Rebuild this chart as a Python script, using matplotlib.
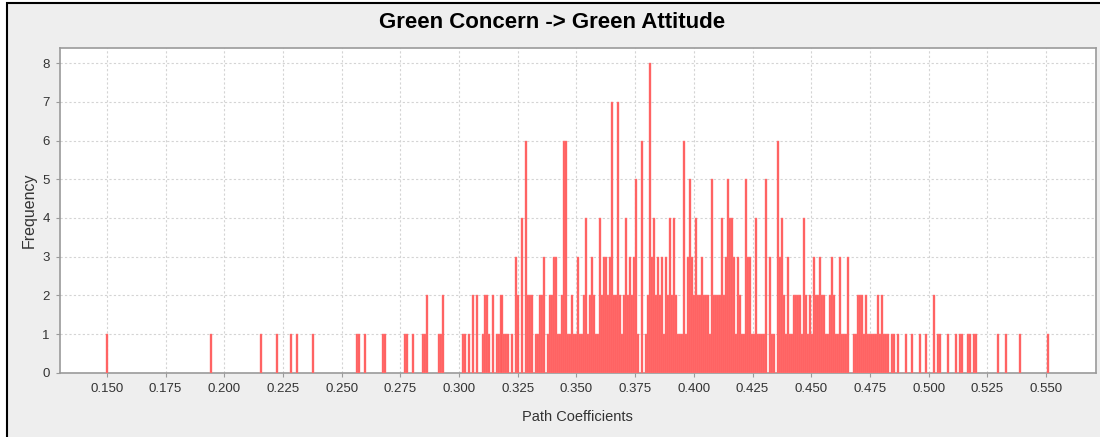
import matplotlib

matplotlib.use("Agg")

import matplotlib.pyplot as plt
import numpy as np
from matplotlib.patches import Rectangle


# histogram bins: lowest / highest path coefficient and number of bins
BIN_MIN = 0.150
BIN_MAX = 0.551
N_BINS = 471

# isolated bins on the left and right tails (bin index -> frequency)
tail_bins = [0, 52, 77, 85, 92, 95, 103, 125, 126, 129, 138, 139, 149, 150,
             153, 158, 159, 160, 166, 167, 168,
             420, 424, 426, 427, 430, 431, 433, 434, 445, 449, 456, 470]
tail_freq = [1, 1, 1, 1, 1, 1, 1, 1, 1, 1, 1, 1, 1, 1,
             1, 1, 1, 2, 1, 1, 2,
             1, 1, 1, 1, 1, 1, 1, 1, 1, 1, 1, 1]

# consecutive bins of the dense middle part, starting at bin 178
DENSE_START = 178
dense_freq = [
    1, 1, 0, 1, 0, 2, 0, 2, 0, 0,   # 178
    1, 2, 2, 1, 0, 2, 0, 1, 1, 2,   # 188
    1, 1, 1, 0, 1, 0, 3, 2, 0, 4,   # 198
    0, 6, 2, 2, 2, 0, 1, 1, 2, 2,   # 208
    3, 0, 1, 2, 2, 3, 3, 1, 1, 2,   # 218
    6, 6, 1, 1, 2, 1, 1, 3, 1, 1,   # 228
    2, 4, 1, 2, 3, 2, 1, 1, 4, 2,   # 238
    3, 3, 2, 3, 7, 2, 2, 7, 2, 1,   # 248
    2, 4, 2, 3, 2, 3, 5, 1, 0, 6,   # 258
    0, 1, 2, 8, 3, 4, 2, 3, 2, 3,   # 268
    1, 3, 2, 4, 2, 4, 2, 1, 1, 1,   # 278
    6, 1, 3, 5, 3, 2, 4, 2, 2, 3,   # 288
    2, 2, 2, 1, 5, 2, 2, 2, 2, 4,   # 298
    2, 3, 5, 4, 4, 3, 1, 3, 2, 1,   # 308
    1, 5, 3, 3, 1, 1, 4, 1, 1, 1,   # 318
    1, 5, 0, 3, 1, 1, 0, 6, 3, 4,   # 328
    2, 1, 3, 1, 1, 2, 2, 2, 2, 1,   # 338
    4, 2, 1, 2, 1, 3, 2, 2, 3, 2,   # 348
    2, 1, 1, 2, 3, 2, 1, 1, 3, 1,   # 358
    1, 1, 3, 0, 0, 1, 1, 2, 2, 2,   # 368
    1, 2, 1, 1, 1, 1, 1, 2, 1, 2,   # 378
    1, 1, 1, 0, 1, 1, 0, 1, 0, 0,   # 388
    0, 1, 0, 0, 1, 0, 0, 0, 1, 0,   # 398
    0, 1, 0, 0, 0, 2, 0, 1, 1,      # 408
]

x_ticks = [0.150, 0.175, 0.200, 0.225, 0.250, 0.275, 0.300, 0.325, 0.350,
           0.375, 0.400, 0.425, 0.450, 0.475, 0.500, 0.525, 0.550]
y_ticks = [0, 1, 2, 3, 4, 5, 6, 7, 8]


def main():
    bin_width = (BIN_MAX - BIN_MIN) / (N_BINS - 1)

    bins = tail_bins + list(range(DENSE_START, DENSE_START + len(dense_freq)))
    freq = tail_freq + dense_freq
    coef = BIN_MIN + np.array(bins) * bin_width

    plt.rcParams["font.family"] = ["Liberation Sans", "DejaVu Sans"]

    fig = plt.figure(figsize=(11, 4.37), dpi=100, facecolor="white")
    fig.patches.append(
        Rectangle(
            (7 / 1100, -0.1), 1.2, 1.1 - 3 / 437,
            transform=fig.transFigure,
            facecolor="#eeeeee",
            edgecolor="black",
            linewidth=1.5,
            zorder=-10,
        )
    )

    ax = fig.add_axes([0.0541, 0.1465, 0.9420, 0.7430])
    ax.set_facecolor("white")

    ax.bar(
        coef,
        freq,
        width=bin_width,
        color="#ff5c5c",
        edgecolor="#ff7e7e",
        linewidth=0.3,
        zorder=3,
    )

    ax.set_xlim(0.1298, 0.5712)
    ax.set_ylim(0, 8.38)
    ax.set_xticks(x_ticks)
    ax.set_xticklabels([f"{t:.3f}" for t in x_ticks])
    ax.set_yticks(y_ticks)

    ax.grid(True, color="#d4d4d4", linestyle=(0, (2, 2)), linewidth=0.8, zorder=0)
    for spine in ax.spines.values():
        spine.set_color("#9a9a9a")
        spine.set_linewidth(1.2)

    ax.tick_params(
        direction="out", length=3, width=0.8, color="#9a9a9a",
        labelsize=9.5, labelcolor="#333333", pad=4,
    )

    ax.set_xlabel("Path Coefficients", fontsize=10.5, color="#333333", labelpad=11)
    ax.set_ylabel("Frequency", fontsize=11.5, color="#333333", labelpad=4)

    fig.text(
        0.502, 0.949,
        "Green Concern -> Green Attitude",
        ha="center", va="center",
        fontsize=16, fontweight="bold", color="black",
    )

    fig.savefig("out.png", dpi=100, facecolor=fig.get_facecolor())
    plt.close(fig)


if __name__ == "__main__":
    main()
